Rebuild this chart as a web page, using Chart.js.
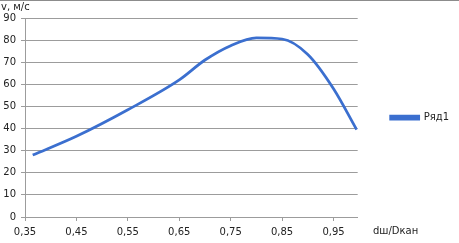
<!DOCTYPE html>
<html>
<head>
<meta charset="utf-8">
<script src="https://cdn.jsdelivr.net/npm/chart.js@4.4.0/dist/chart.umd.min.js"></script>
<style>
  html, body { margin: 0; padding: 0; background: #fff; }
  #wrap { position: relative; width: 459px; height: 243px; }
</style>
</head>
<body>
<div id="wrap"><canvas id="myChart" width="459" height="243"></canvas></div>
<script>
// data
var ratio = [0.365, 0.45, 0.55, 0.65, 0.70, 0.75, 0.80, 0.85, 0.90, 0.95, 0.995];
var speed = [28, 36.5, 48.5, 62, 71, 77.5, 81, 80.5, 73.5, 58, 39.5];
var xTicks = [0.35, 0.45, 0.55, 0.65, 0.75, 0.85, 0.95];
var seriesName = "Ряд1";
var yTitle = "v, м/с";
var xTitle = "dш/Dкан";

var FONT = "DejaVu Sans";
var gridColor = "#9c9c9c";
var textColor = "#222";

// extra texts + top frame line
var extras = {
  id: 'extras',
  afterDraw: function (chart) {
    var c = chart.ctx;
    c.save();
    c.strokeStyle = "#8c8c8c";
    c.lineWidth = 1;
    c.beginPath();
    c.moveTo(0, 0.5);
    c.lineTo(chart.width, 0.5);
    c.stroke();
    c.fillStyle = textColor;
    c.font = "10px '" + FONT + "'";
    c.textBaseline = "middle";
    c.fillText(yTitle, 1, 7.5);
    c.fillText(xTitle, 373, 231.5);
    c.restore();
  }
};

var points = ratio.map(function (r, i) { return { x: r, y: speed[i] }; });

var ctx = document.getElementById("myChart");
var myChart = new Chart(ctx, {
  type: 'line',
  data: {
    datasets: [
      {
        data: points,
        label: seriesName,
        borderColor: "#3b6fcf",
        backgroundColor: "#3b6fcf",
        borderWidth: 2.75,
        pointRadius: 0,
        cubicInterpolationMode: 'monotone',
        fill: false
      }
    ]
  },
  options: {
    responsive: false,
    animation: false,
    devicePixelRatio: 1,
    layout: { padding: { top: 18, left: 0, right: 0, bottom: 0 } },
    plugins: {
      tooltip: { enabled: false },
      legend: {
        position: 'right',
        fullSize: false,
        labels: {
          boxWidth: 28,
          boxHeight: 3,
          padding: 33,
          color: textColor,
          font: { family: FONT, size: 10 }
        }
      }
    },
    scales: {
      x: {
        type: 'linear',
        min: 0.35,
        max: 0.997,
        afterBuildTicks: function (axis) {
          axis.ticks = xTicks.map(function (v) { return { value: v }; });
        },
        afterFit: function (axis) { axis.height = 26; },
        grid: { display: true, drawOnChartArea: false, drawTicks: true, tickLength: 4, color: gridColor },
        border: { color: gridColor },
        ticks: {
          padding: 5,
          maxRotation: 0,
          color: textColor,
          font: { family: FONT, size: 10 },
          callback: function (v) { return v.toFixed(2).replace('.', ','); }
        }
      },
      y: {
        min: 0,
        max: 90,
        afterFit: function (axis) { axis.width = 25; },
        grid: { color: gridColor, tickLength: 4 },
        border: { color: gridColor },
        ticks: {
          stepSize: 10,
          padding: 5,
          color: textColor,
          font: { family: FONT, size: 10 }
        }
      }
    }
  },
  plugins: [extras]
});
</script>
</body>
</html>
